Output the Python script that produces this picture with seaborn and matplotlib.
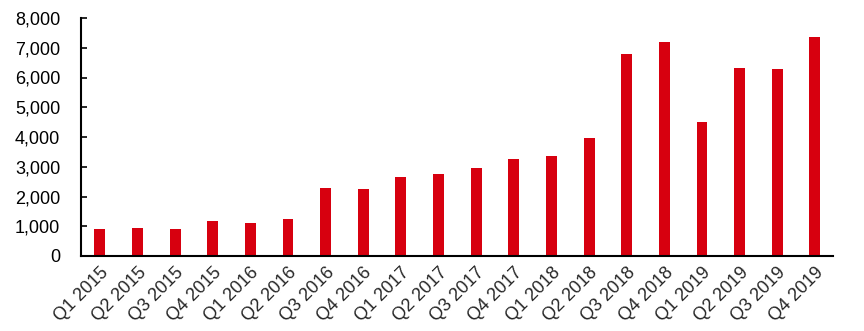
import matplotlib
matplotlib.use("Agg")
import matplotlib.pyplot as plt
import seaborn as sns
import pandas as pd
from matplotlib.ticker import FuncFormatter

quarters = ["Q1 2015", "Q2 2015", "Q3 2015", "Q4 2015",
            "Q1 2016", "Q2 2016", "Q3 2016", "Q4 2016",
            "Q1 2017", "Q2 2017", "Q3 2017", "Q4 2017",
            "Q1 2018", "Q2 2018", "Q3 2018", "Q4 2018",
            "Q1 2019", "Q2 2019", "Q3 2019", "Q4 2019"]
values = [900, 930, 900, 1190,
          1120, 1235, 2275, 2265,
          2665, 2770, 2950, 3260,
          3375, 3980, 6800, 7205,
          4505, 6330, 6275, 7350]

df = pd.DataFrame({"quarter": quarters, "value": values})

sns.set_style("white")
plt.rcParams['font.family'] = ['Liberation Sans', 'DejaVu Sans']

fig = plt.figure(figsize=(8.64, 3.31), dpi=100)
ax = fig.add_axes([81/864, 1-256/331, (833-81)/864, (256-18)/331])

sns.barplot(data=df, x="quarter", y="value", color="#D7000F", width=0.29,
            saturation=1, ax=ax, edgecolor="none")

ax.set_ylim(0, 8000)
ax.set_yticks(range(0, 8001, 1000))
ax.yaxis.set_major_formatter(FuncFormatter(lambda v, p: f"{int(v):,}"))
ax.set_xlim(-0.5, len(quarters) - 0.52)
ax.set_xlabel("")
ax.set_ylabel("")

for s in ["top", "right"]:
    ax.spines[s].set_visible(False)
for s in ["left", "bottom"]:
    ax.spines[s].set_color("black")
    ax.spines[s].set_linewidth(1.5)

ax.tick_params(axis="y", direction="in", length=4, width=1.2, labelsize=13,
               left=True, pad=15, colors="black")
ax.tick_params(axis="x", length=0, labelsize=13, pad=6)
plt.setp(ax.get_xticklabels(), rotation=45, ha="right", rotation_mode="anchor")

fig.savefig("out.png", dpi=100)
